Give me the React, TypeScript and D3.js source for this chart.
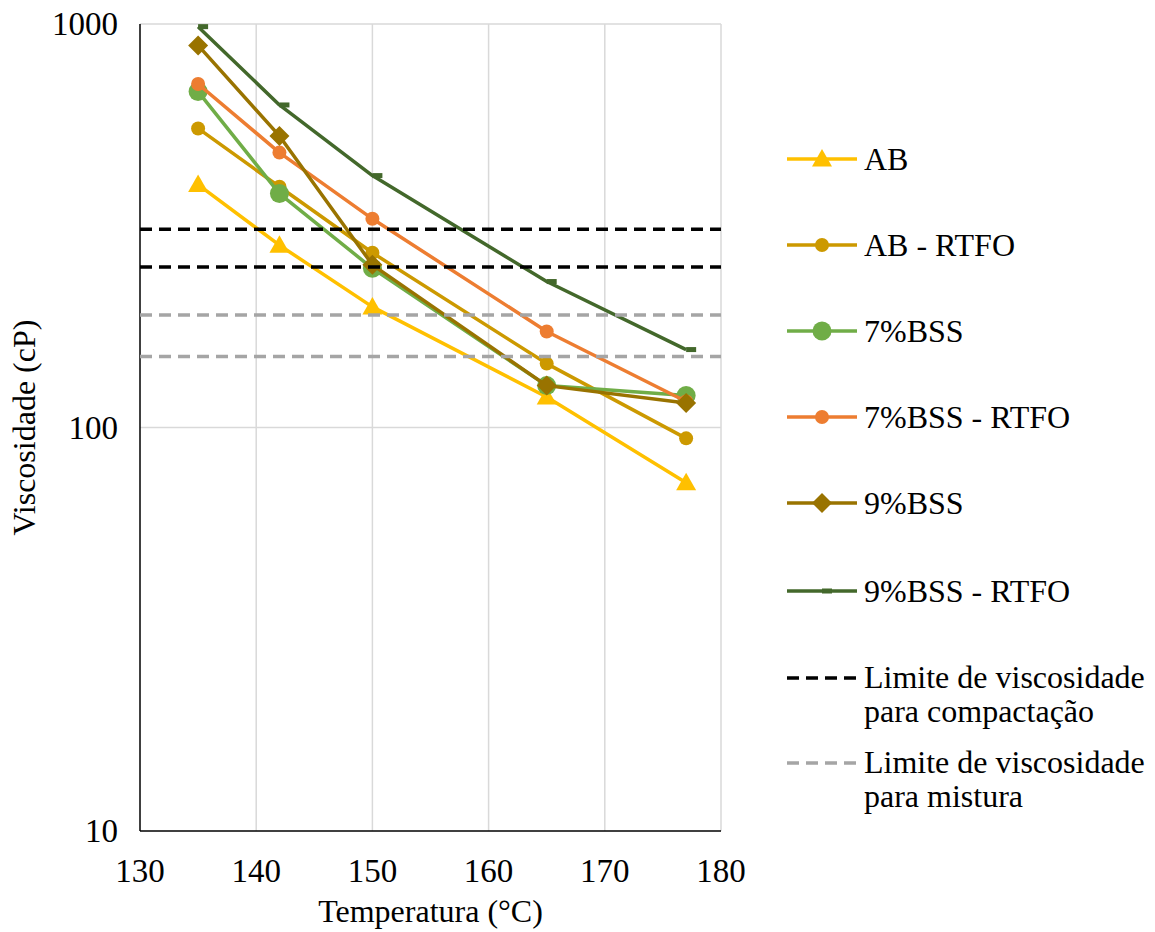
import React from 'react';
import * as d3 from 'd3';

// temperatures (°C)
const temps = [135, 142, 150, 165, 177];

// viscosity (cP) per binder
const ab = [400, 283, 199, 119, 73];
const abRtfo = [551, 395, 271, 144, 94];
const bss7 = [680, 380, 248, 127, 120];
const bss7Rtfo = [710, 480, 329, 173, 116];
const bss9 = [885, 528, 253, 127, 115];
const bss9Rtfo = [985, 630, 421, 230, 156];

// limit lines
const limitX = [130, 180];
const compactLimits = [310, 250];
const mixLimits = [190, 150];

const xTicks = [130, 140, 150, 160, 170, 180];
const yTicks = [10, 100, 1000];

const series = [
  { name: 'AB', values: ab, color: '#FFC000', marker: 'triangle', size: 10 },
  { name: 'AB - RTFO', values: abRtfo, color: '#CC9900', marker: 'circle', size: 7 },
  { name: '7%BSS', values: bss7, color: '#70AD47', marker: 'circle', size: 9.5 },
  { name: '7%BSS - RTFO', values: bss7Rtfo, color: '#ED7D31', marker: 'circle', size: 7 },
  { name: '9%BSS', values: bss9, color: '#997300', marker: 'diamond', size: 10 },
  { name: '9%BSS - RTFO', values: bss9Rtfo, color: '#43682B', marker: 'dash', size: 5 },
];

const W = 1155;
const H = 932;
const margin = { top: 24, right: 434, bottom: 101, left: 140 };
const font = "'Times New Roman', 'Liberation Serif', serif";

function Marker({ type, x, y, size, color }: { type: string; x: number; y: number; size: number; color: string }) {
  if (type === 'circle') return <circle cx={x} cy={y} r={size} fill={color} />;
  if (type === 'triangle') {
    const s = size;
    return <path d={`M${x},${y - s}L${x + s},${y + s * 0.75}L${x - s},${y + s * 0.75}Z`} fill={color} />;
  }
  if (type === 'diamond') {
    const s = size;
    return <path d={`M${x},${y - s}L${x + s},${y}L${x},${y + s}L${x - s},${y}Z`} fill={color} />;
  }
  return <rect x={x} y={y - size / 2} width={10} height={size} fill={color} />;
}

export default function App() {
  const iw = W - margin.left - margin.right;
  const ih = H - margin.top - margin.bottom;
  const x = d3.scaleLinear().domain([130, 180]).range([0, iw]);
  const y = d3.scaleLog().domain([10, 1000]).range([ih, 0]);
  const line = d3.line<[number, number]>().x(d => x(d[0])).y(d => y(d[1]));

  const legendX = 787;
  const legendY = [159, 245, 331, 417, 503, 591];

  return (
    <svg width={W} height={H} style={{ position: 'absolute', left: 0, top: 0, background: '#fff', fontFamily: font }}>
      <g transform={`translate(${margin.left},${margin.top})`}>
        {xTicks.slice(1).map(t => (
          <line key={'gx' + t} x1={x(t)} x2={x(t)} y1={0} y2={ih} stroke="#D9D9D9" strokeWidth={1.5} />
        ))}
        {yTicks.slice(1).map(t => (
          <line key={'gy' + t} x1={0} x2={iw} y1={y(t)} y2={y(t)} stroke="#D9D9D9" strokeWidth={1.5} />
        ))}
        <line x1={0} x2={0} y1={0} y2={ih} stroke="#000" strokeWidth={1.5} />
        <line x1={0} x2={iw} y1={ih} y2={ih} stroke="#000" strokeWidth={1.5} />

        {xTicks.map(t => (
          <text key={'tx' + t} x={x(t)} y={ih + 51} fontSize={33} textAnchor="middle">{t}</text>
        ))}
        {yTicks.map(t => (
          <text key={'ty' + t} x={-22} y={y(t) + 11} fontSize={33} textAnchor="end">{t}</text>
        ))}

        {series.map(s => {
          const pts = temps.map((t, i) => [t, s.values[i]] as [number, number]);
          return (
            <g key={s.name}>
              <path d={line(pts) || ''} fill="none" stroke={s.color} strokeWidth={3.5} strokeLinejoin="round" />
              {pts.map((p, i) => (
                <Marker key={i} type={s.marker} x={x(p[0])} y={y(p[1])} size={s.size} color={s.color} />
              ))}
            </g>
          );
        })}

        {compactLimits.map(v => (
          <path key={'c' + v} d={line(limitX.map(t => [t, v] as [number, number])) || ''} stroke="#000" strokeWidth={3.5} strokeDasharray="12 7" fill="none" />
        ))}
        {mixLimits.map(v => (
          <path key={'m' + v} d={line(limitX.map(t => [t, v] as [number, number])) || ''} stroke="#A5A5A5" strokeWidth={3.5} strokeDasharray="12 7" fill="none" />
        ))}
      </g>

      <text x={margin.left + iw / 2} y={922} fontSize={32} textAnchor="middle">Temperatura (°C)</text>
      <text transform={`translate(35,${margin.top + ih / 2}) rotate(-90)`} fontSize={32} textAnchor="middle">Viscosidade (cP)</text>

      <g fontSize={32}>
        {series.map((s, i) => (
          <g key={'lg' + s.name}>
            <line x1={legendX} x2={legendX + 70} y1={legendY[i]} y2={legendY[i]} stroke={s.color} strokeWidth={3.5} />
            <Marker type={s.marker} x={legendX + 35} y={legendY[i]} size={s.size} color={s.color} />
            <text x={legendX + 77} y={legendY[i] + 11}>{s.name}</text>
          </g>
        ))}
        <line x1={legendX} x2={legendX + 70} y1={678} y2={678} stroke="#000" strokeWidth={3.5} strokeDasharray="12 7" />
        <text x={legendX + 77} y={688}>Limite de viscosidade</text>
        <text x={legendX + 77} y={722}>para compactação</text>
        <line x1={legendX} x2={legendX + 70} y1={763} y2={763} stroke="#A5A5A5" strokeWidth={3.5} strokeDasharray="12 7" />
        <text x={legendX + 77} y={773}>Limite de viscosidade</text>
        <text x={legendX + 77} y={807}>para mistura</text>
      </g>
    </svg>
  );
}
